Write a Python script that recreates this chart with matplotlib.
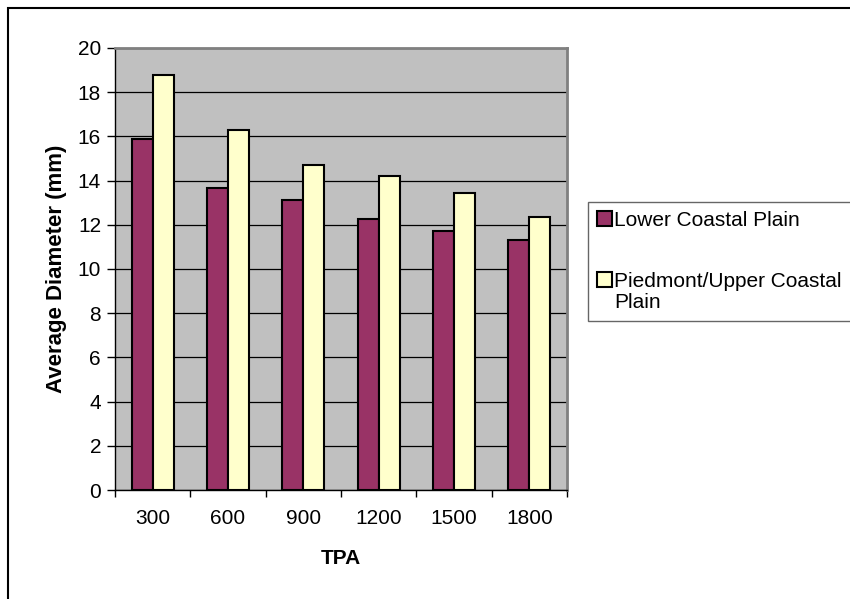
import numpy as np
import matplotlib.pyplot as plt
from matplotlib.patches import Rectangle

plt.rcParams['font.family'] = ['Liberation Sans', 'DejaVu Sans']

tpa = ['300', '600', '900', '1200', '1500', '1800']
lower_coastal = [15.9, 13.65, 13.1, 12.25, 11.7, 11.3]
piedmont_upper = [18.8, 16.3, 14.7, 14.2, 13.45, 12.35]

fig = plt.figure(figsize=(8.5, 5.99), dpi=100)
ax = fig.add_axes([115/850, 1 - 490/599, 452/850, 442/599])
ax.set_facecolor('#c0c0c0')

x = np.arange(len(tpa))
w = 0.28
ax.bar(x - w/2, lower_coastal, w, color='#993366', edgecolor='black',
       linewidth=1.5, label='Lower Coastal Plain', zorder=3)
ax.bar(x + w/2, piedmont_upper, w, color='#ffffcc', edgecolor='black',
       linewidth=1.5, label='Piedmont/Upper Coastal\nPlain', zorder=3)

ax.set_xlim(-0.5, len(tpa) - 0.5)
ax.set_ylim(0, 20)
ax.set_yticks(np.arange(0, 21, 2))
ax.yaxis.grid(True, color='black', linewidth=0.9, zorder=1)
ax.set_axisbelow(True)

# tick marks sit between categories, labels at the centres
ax.set_xticks(np.arange(len(tpa) + 1) - 0.5)
ax.set_xticklabels([])
ax.set_xticks(x, minor=True)
ax.set_xticklabels(tpa, minor=True)
ax.tick_params(axis='x', which='minor', length=0, pad=14, labelsize=15)
ax.tick_params(axis='x', which='major', length=5, width=1)
ax.tick_params(axis='y', length=6, width=1, pad=4, labelsize=15)

for s in ['top', 'right']:
    ax.spines[s].set_color('#808080')
    ax.spines[s].set_linewidth(2)
for s in ['left', 'bottom']:
    ax.spines[s].set_color('black')
    ax.spines[s].set_linewidth(1)

ax.set_xlabel('TPA', fontsize=15, fontweight='bold', labelpad=15)
ax.set_ylabel('Average Diameter (mm)', fontsize=16, fontweight='bold', labelpad=8)

leg = fig.legend(loc='upper left', bbox_to_anchor=(588/850, 1 - 202/599),
                 fontsize=15, frameon=True, fancybox=False, shadow=False,
                 edgecolor='#404040', handlelength=0.7, handleheight=0.7,
                 handletextpad=0.1, labelspacing=2.0, borderpad=0.45,
                 borderaxespad=0)
leg.get_frame().set_linewidth(1)
for t in leg.get_texts():
    t.set_linespacing(1.1)
# keep the swatch next to the first line of a wrapped label
for col in leg._legend_handle_box.get_children():
    for row in col.get_children():
        row.align = 'top'

# outer chart border
fig.patches.append(Rectangle((8/850, -0.1), 1.2, 1.1 - 8/599, fill=False,
                             edgecolor='black', linewidth=1.5,
                             transform=fig.transFigure, figure=fig))

fig.savefig('out.png', dpi=100)
